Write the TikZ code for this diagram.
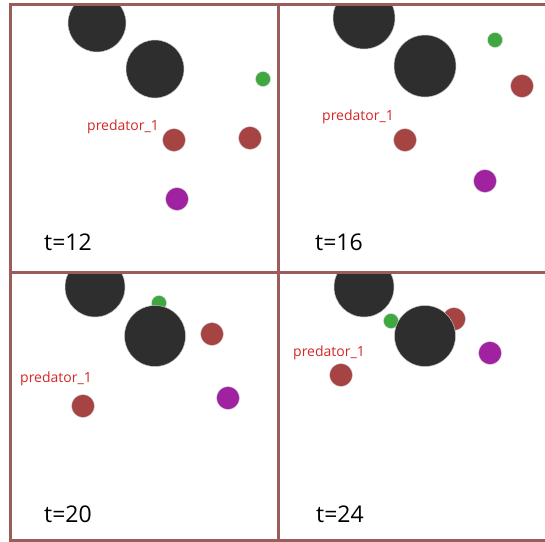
\documentclass[tikz,border=0pt]{standalone}
\usepackage{fontspec}
\setmainfont{Open Sans}
\begin{document}
\begin{tikzpicture}[x=1pt,y=-1pt,
  obst/.style={circle,fill=obstc,draw=gray!45,line width=0.5pt,inner sep=0pt,minimum size=#1},
  agent/.style={circle,fill=redc,draw=gray!30,line width=0.4pt,inner sep=0pt,minimum size=23pt},
  prey/.style={circle,fill=purc,draw=gray!30,line width=0.4pt,inner sep=0pt,minimum size=23pt},
  food/.style={circle,fill=greenc,draw=gray!30,line width=0.4pt,inner sep=0pt,minimum size=15pt},
  lbl/.style={anchor=base west,inner sep=0pt,text=labc,font=\fontsize{14}{14}\selectfont},
  tlbl/.style={anchor=base west,inner sep=0pt,text=black,font=\fontsize{23}{23}\selectfont},
  border/.style={draw=borderc,line width=3pt}]
\definecolor{obstc}{RGB}{46,46,46}
\definecolor{redc}{RGB}{166,68,68}
\definecolor{purc}{RGB}{160,34,160}
\definecolor{greenc}{RGB}{64,168,64}
\definecolor{labc}{RGB}{212,40,40}
\definecolor{borderc}{RGB}{155,92,92}
\useasboundingbox[fill=white] (0,0) rectangle (545,541);
% panel 1
\begin{scope}
\clip (10,4) rectangle (278,272);
\node[obst=58pt] (a1) at (97,23) {};
\node[obst=58pt] (a2) at (155,69) {};
\node[food] (a3) at (263,79) {};
\node[agent] (a4) at (174,140) {};
\node[agent] (a5) at (250,138) {};
\node[prey] (a6) at (177,199) {};
\node[lbl] (a7) at (87,130) {predator\_1};
\node[tlbl] (a8) at (44,250) {t=12};
\end{scope}
% panel 2
\begin{scope}
\clip (278,4) rectangle (546,272);
\node[obst=62pt] (b1) at (364,18) {};
\node[obst=62pt] (b2) at (425,66) {};
\node[food] (b3) at (495,40) {};
\node[agent] (b4) at (405,140) {};
\node[agent] (b5) at (522,86) {};
\node[prey] (b6) at (485,181) {};
\node[lbl] (b7) at (322,120) {predator\_1};
\node[tlbl] (b8) at (315,250) {t=16};
\end{scope}
% panel 3
\begin{scope}
\clip (10,272) rectangle (278,540);
\node[obst=60pt] (c1) at (95,287) {};
\node[food] (c3) at (159,303) {};
\node[obst=61pt] (c2) at (155,336) {};
\node[agent] (c5) at (212,334) {};
\node[agent] (c4) at (83,406) {};
\node[prey] (c6) at (228,398) {};
\node[lbl] (c7) at (20,382) {predator\_1};
\node[tlbl] (c8) at (44,522) {t=20};
\end{scope}
% panel 4
\begin{scope}
\clip (278,272) rectangle (546,540);
\node[obst=60pt] (d1) at (364,287) {};
\node[agent] (d5) at (454,319) {};
\node[food] (d3) at (391,321) {};
\node[obst=61pt] (d2) at (425,336) {};
\node[prey] (d6) at (490,353) {};
\node[agent] (d4) at (341,375) {};
\node[lbl] (d7) at (293,356) {predator\_1};
\node[tlbl] (d8) at (316,522) {t=24};
\end{scope}
% borders
\draw[border] (10,4) rectangle (546,540);
\draw[border] (278,4) -- (278,540);
\draw[border] (10,272) -- (546,272);
\end{tikzpicture}
\end{document}
